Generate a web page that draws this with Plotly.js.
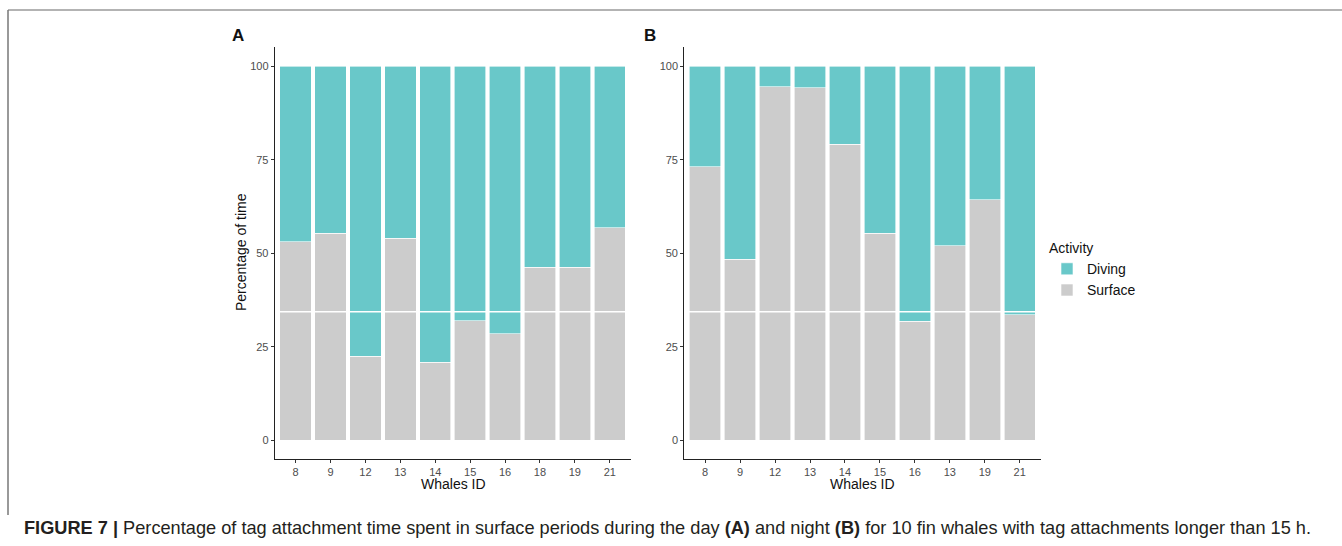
<!DOCTYPE html>
<html>
<head>
<meta charset="utf-8">
<script src="https://cdn.plot.ly/plotly-3.0.1.min.js"></script>
<style>html,body{margin:0;padding:0;background:#fff;}#chart{width:1342px;height:546px;}</style>
</head>
<body>
<div id="chart"></div>
<script>
// Whale IDs (tick labels) as printed in each panel
var idsA = ["8", "9", "12", "13", "14", "15", "16", "18", "19", "21"];
var idsB = ["8", "9", "12", "13", "14", "15", "16", "13", "19", "21"];
// Percentage of time at surface (day = A, night = B)
var surfaceA = [53.1, 55.4, 22.5, 54.0, 20.9, 32.0, 28.5, 46.3, 46.3, 56.8];
var surfaceB = [73.2, 48.4, 94.6, 94.3, 79.2, 55.4, 31.9, 52.1, 64.3, 33.6];
// Percentage of time diving
var divingA = [46.9, 44.6, 77.5, 46.0, 79.1, 68.0, 71.5, 53.7, 53.7, 43.2];
var divingB = [26.8, 51.6, 5.4, 5.7, 20.8, 44.6, 68.1, 47.9, 35.7, 66.4];

var posA = idsA.map(function(_, i){ return i; });
var posB = idsB.map(function(_, i){ return i; });

var cDive = "#69C8C9", cSurf = "#CCCCCC";
function bar(x, y, name, color, xa, ya, show, rank){
  return {type:"bar", x:x, y:y, name:name, xaxis:xa, yaxis:ya, width:0.9,
    marker:{color:color, line:{color:"#ffffff", width:0.6}},
    showlegend:show, legendrank:rank, hoverinfo:"x+y+name"};
}
var data = [
  bar(posA, surfaceA, "Surface", cSurf, "x", "y", true, 2),
  bar(posA, divingA, "Diving", cDive, "x", "y", true, 1),
  bar(posB, surfaceB, "Surface", cSurf, "x2", "y2", false, 2),
  bar(posB, divingB, "Diving", cDive, "x2", "y2", false, 1)
];

var W = 1342, H = 546;
function px(v){ return v / W; }
function py(v){ return 1 - v / H; }
var tickFont = {family:"Liberation Sans, Arial, sans-serif", size:11, color:"#4D4D4D"};
function xax(domain, labels, anchor){
  return {domain:domain, anchor:anchor, range:[-0.6, 9.6], tickmode:"array",
    tickvals:labels.map(function(_, i){ return i; }), ticktext:labels,
    showline:true, linecolor:"#222", linewidth:1, ticks:"outside", ticklen:3,
    tickcolor:"#333", tickfont:tickFont, showgrid:false, zeroline:false, fixedrange:true};
}
function yax(anchor){
  return {domain:[py(459), py(47)], anchor:anchor, range:[-5, 105.2],
    tickvals:[0,25,50,75,100], showline:true, linecolor:"#222", linewidth:1,
    ticks:"outside", ticklen:3, tickcolor:"#333", tickfont:tickFont,
    showgrid:false, zeroline:false, fixedrange:true};
}
var titleFont = {family:"Liberation Sans, Arial, sans-serif", size:14, color:"#111"};
function ann(text, x, y, extra){
  var a = {text:text, xref:"paper", yref:"paper", x:px(x), y:py(y), xanchor:"center", yanchor:"middle", showarrow:false};
  for (var k in extra) a[k] = extra[k];
  return a;
}
var layout = {
  width:W, height:H, margin:{l:0, r:0, t:0, b:0},
  paper_bgcolor:"#fff", plot_bgcolor:"#fff",
  barmode:"stack", bargap:0.1,
  font:{family:"Liberation Sans, Arial, sans-serif"},
  xaxis: xax([px(274.7), px(630.7)], idsA, "y"),
  yaxis: yax("x"),
  xaxis2: xax([px(684.2), px(1040.7)], idsB, "y2"),
  yaxis2: yax("x2"),
  legend:{x:px(1047), y:py(235), xanchor:"left", yanchor:"top", traceorder:"normal",
    title:{text:"Activity", font:{size:14, color:"#111"}},
    font:{size:14, color:"#111"}, tracegroupgap:0, itemwidth:30},
  shapes:[
    {type:"line", xref:"paper", yref:"paper", x0:px(8), x1:1, y0:py(10), y1:py(10), line:{color:"#9A9A9A", width:1.5}},
    {type:"line", xref:"paper", yref:"paper", x0:px(8), x1:px(8), y0:py(10), y1:py(515), line:{color:"#777", width:1.5}},
    {type:"line", xref:"x", yref:"y", x0:-0.5, x1:9.5, y0:34.4, y1:34.4, line:{color:"#fff", width:1.5}, layer:"above"},
    {type:"line", xref:"x2", yref:"y2", x0:-0.5, x1:9.5, y0:34.4, y1:34.4, line:{color:"#fff", width:1.5}, layer:"above"}
  ],
  annotations:[
    ann("<b>A</b>", 238, 35, {font:{size:17, color:"#111"}}),
    ann("<b>B</b>", 650, 35, {font:{size:17, color:"#111"}}),
    ann("Whales ID", 453, 484, {font:titleFont}),
    ann("Whales ID", 862, 484, {font:titleFont}),
    ann("Percentage of time", 241, 252, {textangle:-90, font:titleFont}),
    ann("<b>FIGURE 7 |</b> Percentage of tag attachment time spent in surface periods during the day <b>(A)</b> and night <b>(B)</b> for 10 fin whales with tag attachments longer than 15 h.",
      22, 528, {xanchor:"left", font:{family:"Liberation Sans Narrow, Arial Narrow, sans-serif", size:18.2, color:"#231F20"}})
  ]
};
Plotly.newPlot("chart", data, layout, {displayModeBar:false, staticPlot:true});
</script>
</body>
</html>
